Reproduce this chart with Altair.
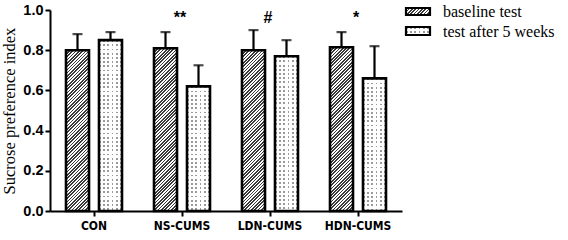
import altair as alt
import pandas as pd

# ---------------- data ----------------
groups = ["CON", "NS-CUMS", "LDN-CUMS", "HDN-CUMS"]
series = ["baseline test", "test after 5 weeks"]
baseline_mean = [0.80, 0.81, 0.80, 0.815]
baseline_err = [0.08, 0.08, 0.10, 0.075]
after_mean = [0.85, 0.62, 0.77, 0.66]
after_err = [0.04, 0.105, 0.08, 0.16]
sig_marks = ["", "**", "#", "*"]
y_ticks = [0.0, 0.2, 0.4, 0.6, 0.8, 1.0]

# ---------------- layout / style ----------------
PLOT_W, PLOT_H = 352, 201
PAD_IN, PAD_OUT = 0.303, 0.485
STEP = (PLOT_W / len(groups)) / (2 - PAD_IN + 2 * PAD_OUT)
BAR_W = STEP * (1 - PAD_IN)


def hatch(w, h, period=3.3, dark="#3a3a3a", light="#ffffff", duty=0.5):
    s = w + h
    n = s / period
    stops = []
    k = 0
    while k < n:
        a = k / n
        b = min((k + duty) / n, 1.0)
        c = min((k + 1) / n, 1.0)
        stops += [{"offset": round(a, 5), "color": dark},
                  {"offset": round(b, 5), "color": dark},
                  {"offset": round(b, 5), "color": light},
                  {"offset": round(c, 5), "color": light}]
        k += 1
    d = w * w + h * h
    return {"gradient": "linear", "x1": 0, "y1": 0,
            "x2": s * w / d, "y2": s * h / d, "stops": stops}


def stripes(length, horizontal, period=4.2, on="#9a9a9a", off="#ffffff", duty=0.45):
    n = length / period
    stops = []
    k = 0
    while k < n:
        a = k / n
        b = min((k + duty) / n, 1.0)
        c = min((k + 1) / n, 1.0)
        stops += [{"offset": round(a, 5), "color": on},
                  {"offset": round(b, 5), "color": on},
                  {"offset": round(b, 5), "color": off},
                  {"offset": round(c, 5), "color": off}]
        k += 1
    if horizontal:
        return {"gradient": "linear", "x1": 0, "y1": 0, "x2": 0, "y2": 1, "stops": stops}
    return {"gradient": "linear", "x1": 0, "y1": 0, "x2": 1, "y2": 0, "stops": stops}


rows = []
for i, g in enumerate(groups):
    rows.append({"group": g, "series": series[0], "mean": baseline_mean[i],
                 "upper": baseline_mean[i] + baseline_err[i]})
    rows.append({"group": g, "series": series[1], "mean": after_mean[i],
                 "upper": after_mean[i] + after_err[i]})
df = pd.DataFrame(rows)
ann = pd.DataFrame({"group": groups, "label": sig_marks})

X = alt.X("group:N", sort=groups,
          scale=alt.Scale(domain=groups, paddingInner=0, paddingOuter=0),
          axis=alt.Axis(title=None, labelAngle=0,
                        labelFont="Liberation Sans Narrow, DejaVu Sans Condensed, Liberation Sans",
                        labelFontSize=12, labelFontWeight="bold", labelPadding=4, tickSize=5))
XO = alt.XOffset("series:N", sort=series,
                 scale=alt.Scale(domain=series, paddingInner=PAD_IN, paddingOuter=PAD_OUT))
YSCALE = alt.Scale(domain=[0, 1], nice=False, zero=True)
YAXIS = alt.Axis(title="Sucrose preference index", values=y_ticks, format=".1f",
                 grid=False, tickSize=5, labelPadding=2, titlePadding=5,
                 titleFontSize=16.5, labelFontSize=14.5)
Y = alt.Y("mean:Q", scale=YSCALE, axis=YAXIS)

layers = []
# fills (per bar, since the pattern depends on bar size)
for _, r in df.iterrows():
    sub = df[(df.group == r.group) & (df.series == r.series)]
    h = r["mean"] * PLOT_H
    if r.series == series[0]:
        fill = hatch(BAR_W, h)
    else:
        fill = stripes(h, True)
    layers.append(alt.Chart(sub).mark_bar(fill=fill, strokeWidth=0)
                  .encode(x=X, xOffset=XO, y=Y))
    if r.series == series[1]:
        layers.append(alt.Chart(sub).mark_bar(
            fill=stripes(BAR_W, False, on="rgba(255,255,255,0)", off="#ffffff", duty=0.45),
            strokeWidth=0).encode(x=X, xOffset=XO, y=Y))

# outlines
layers.append(alt.Chart(df).mark_bar(filled=False, stroke="black", strokeWidth=2.6)
              .encode(x=X, xOffset=XO, y=Y))
# error bars
layers.append(alt.Chart(df).mark_rule(color="black", strokeWidth=2.2)
              .encode(x=X, xOffset=XO, y=Y, y2="upper:Q"))
layers.append(alt.Chart(df).mark_tick(color="black", thickness=2.2, size=10)
              .encode(x=X, xOffset=XO, y=alt.Y("upper:Q", scale=YSCALE, axis=YAXIS)))
# significance marks
layers.append(alt.Chart(ann).mark_text(font="Liberation Sans", fontSize=16, fontWeight="bold",
                                        color="black", baseline="middle", dx=-2)
              .encode(x=X, y=alt.datum(0.96), text="label:N"))

# legend
leg_rows = [(-2, 5, 2), (17, 25, 22)]
for i, s in enumerate(series):
    y0, y1, yt = leg_rows[i]
    one = pd.DataFrame({"series": [s]})
    if i == 0:
        fills = [hatch(24, 7)]
    else:
        fills = [stripes(8, True), stripes(24, False, on="rgba(255,255,255,0)", off="#ffffff")]
    for f in fills:
        layers.append(alt.Chart(one).mark_rect(fill=f, strokeWidth=0).encode(
            x=alt.value(356), x2=alt.value(380), y=alt.value(y0), y2=alt.value(y1)))
    layers.append(alt.Chart(one).mark_rect(filled=False, stroke="black", strokeWidth=2.2).encode(
        x=alt.value(356), x2=alt.value(380), y=alt.value(y0), y2=alt.value(y1)))
    layers.append(alt.Chart(one).mark_text(font="Liberation Serif", fontSize=16, align="left",
                                            baseline="middle", color="black").encode(
        x=alt.value(393), y=alt.value(yt), text="series:N"))

chart = (alt.layer(*layers)
         .properties(width=PLOT_W, height=PLOT_H,
                     autosize=alt.AutoSizeParams(type="none"),
                     padding={"left": 50, "top": 10, "right": 166, "bottom": 29})
         .configure_view(stroke="transparent")
         .configure_axis(domainColor="black", domainWidth=2, tickColor="black", tickWidth=2,
                         labelColor="black", labelFont="Liberation Sans", labelFontWeight="bold",
                         labelFontSize=14, titleFont="Liberation Serif", titleFontWeight="normal",
                         titleFontSize=16, titleColor="black"))

chart.save("out.html", embed_options={"renderer": "svg", "actions": False})
